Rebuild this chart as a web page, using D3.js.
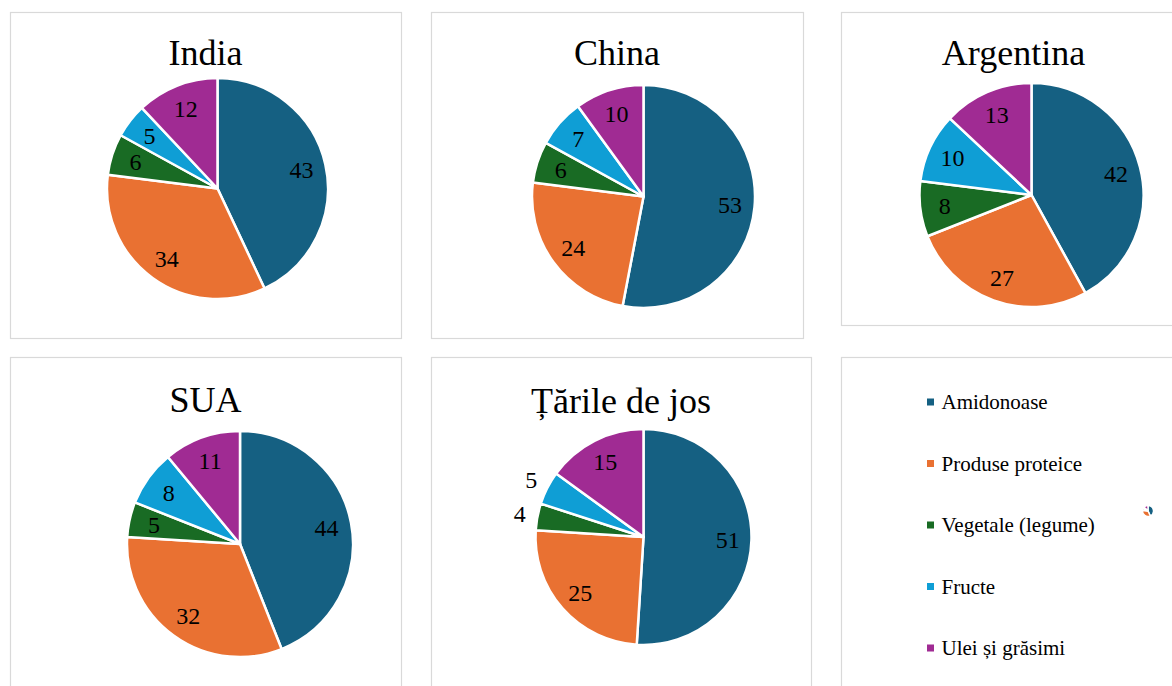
<!DOCTYPE html>
<html>
<head>
<meta charset="utf-8">
<script src="https://cdn.jsdelivr.net/npm/d3@7"></script>
<style>
  html, body { margin: 0; padding: 0; background: #ffffff; }
  svg { display: block; }
  text { font-family: "Liberation Serif", "Times New Roman", serif; fill: #000; }
</style>
</head>
<body>
<svg id="chart" width="1172" height="686"></svg>
<script>
// Food consumption structure (%) by country
const categories = ["Amidonoase", "Produse proteice", "Vegetale (legume)", "Fructe", "Ulei și grăsimi"];
const countries = ["India", "China", "Argentina", "SUA", "Țările de jos"];
const india = [43, 34, 6, 5, 12];
const china = [53, 24, 6, 7, 10];
const argentina = [42, 27, 8, 10, 13];
const sua = [44, 32, 5, 8, 11];
const tarileDeJos = [51, 25, 4, 5, 15];
const seriesValues = [india, china, argentina, sua, tarileDeJos];

const colors = ["#156082", "#E97132", "#196B24", "#0F9ED5", "#A02B93"];
const color = d3.scaleOrdinal().domain(categories).range(colors);

// Layout of the panels (frame, pie centre, radius, title position)
const panels = [
  { x: 10,  y: 12,  w: 391, h: 326, cx: 217.5,  cy: 188.5, r: 110.5, tx: 205.5,  ty: 65,  outside: [] },
  { x: 431, y: 12,  w: 372, h: 326, cx: 643.5,  cy: 196.5, r: 111.5, tx: 617,    ty: 65,  outside: [] },
  { x: 841, y: 12,  w: 345, h: 313, cx: 1031.5, cy: 195,   r: 112,   tx: 1013.5, ty: 65,  outside: [] },
  { x: 10,  y: 357, w: 391, h: 340, cx: 240,    cy: 544,   r: 113,   tx: 205.5,  ty: 412, outside: [] },
  { x: 431, y: 357, w: 380, h: 340, cx: 643.5,  cy: 537,   r: 108,   tx: 621,    ty: 413, outside: [2, 3] }
];

const svg = d3.select("#chart");
const pie = d3.pie().sort(null).value(d => d.value);

panels.forEach((p, i) => {
  svg.append("rect")
    .attr("x", p.x + 0.5).attr("y", p.y + 0.5)
    .attr("width", p.w).attr("height", p.h)
    .attr("fill", "#fff").attr("stroke", "#d9d9d9").attr("stroke-width", 1.2);

  svg.append("text")
    .attr("x", p.tx).attr("y", p.ty)
    .attr("text-anchor", "middle")
    .style("font-size", "36px")
    .text(countries[i]);

  const data = seriesValues[i].map((v, k) => ({ cat: categories[k], value: v, idx: k }));
  const arcs = pie(data);
  const arc = d3.arc().innerRadius(0).outerRadius(p.r);
  const labelIn = d3.arc().innerRadius(p.r * 0.78).outerRadius(p.r * 0.78);
  const labelOut = d3.arc().innerRadius(p.r + 18).outerRadius(p.r + 18);

  const g = svg.append("g").attr("transform", `translate(${p.cx},${p.cy})`);
  g.selectAll("path").data(arcs).join("path")
    .attr("d", arc)
    .attr("fill", d => color(d.data.cat))
    .attr("stroke", "#fff")
    .attr("stroke-width", 2.5)
    .attr("stroke-linejoin", "round");

  g.selectAll("text").data(arcs).join("text")
    .attr("transform", d => {
      const a = p.outside.includes(d.data.idx) ? labelOut : labelIn;
      return `translate(${a.centroid(d)})`;
    })
    .attr("text-anchor", "middle")
    .attr("dy", "0.35em")
    .style("font-size", "24px")
    .text(d => d.data.value);
});

// Legend panel
const leg = { x: 841, y: 357, w: 345, h: 340 };
svg.append("rect")
  .attr("x", leg.x + 0.5).attr("y", leg.y + 0.5)
  .attr("width", leg.w).attr("height", leg.h)
  .attr("fill", "#fff").attr("stroke", "#d9d9d9").attr("stroke-width", 1.2);

const legY = d3.scalePoint().domain(categories).range([402, 648]);
const items = svg.append("g").selectAll("g").data(categories).join("g")
  .attr("transform", d => `translate(927,${legY(d)})`);
items.append("rect")
  .attr("x", 0).attr("y", -3.5).attr("width", 7).attr("height", 7)
  .attr("fill", d => color(d));
items.append("text")
  .attr("x", 14.5).attr("dy", "0.35em")
  .style("font-size", "21px")
  .text(d => d);

// small stray pie glyph inside the legend frame
const tiny = svg.append("g").attr("transform", "translate(1148,511)");
tiny.selectAll("path").data(pie(india.map((v, k) => ({ cat: categories[k], value: v })))).join("path")
  .attr("d", d3.arc().innerRadius(0).outerRadius(5.5))
  .attr("fill", d => color(d.data.cat))
  .attr("stroke", "#fff").attr("stroke-width", 1.5);
</script>
</body>
</html>
